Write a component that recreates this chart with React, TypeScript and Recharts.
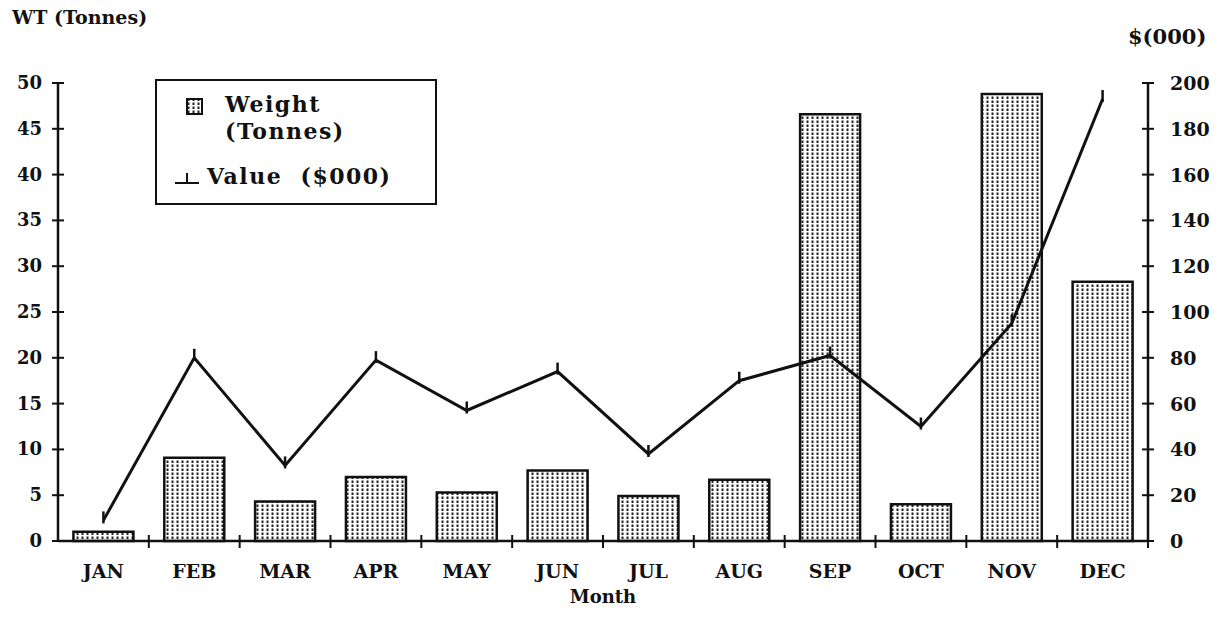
import {
  Bar,
  ComposedChart,
  Line,
  XAxis,
  YAxis,
} from "recharts";

const months = ["JAN", "FEB", "MAR", "APR", "MAY", "JUN", "JUL", "AUG", "SEP", "OCT", "NOV", "DEC"];
const weightTonnes = [1, 9.1, 4.3, 7, 5.3, 7.7, 4.9, 6.7, 46.6, 4, 48.8, 28.3];
const valueThousands = [9, 80, 33, 79, 57, 74, 38, 70, 81, 50, 95, 193];
const leftTicks = [0, 5, 10, 15, 20, 25, 30, 35, 40, 45, 50];
const rightTicks = [0, 20, 40, 60, 80, 100, 120, 140, 160, 180, 200];

const data = months.map((m, i) => ({
  month: m,
  weight: weightTonnes[i],
  value: valueThousands[i],
}));

const W = 1223;
const H = 617;
const LEFT_W = 58;
const RIGHT_W = 75;
const BAND = (W - LEFT_W - RIGHT_W) / months.length;
const FONT = "'DejaVu Serif', serif";
const INK = "#111";

function LeftTick(props: any) {
  const { x, y, payload } = props;
  return (
    <g>
      <line x1={x + 8} x2={x + 20} y1={y} y2={y} stroke={INK} strokeWidth={2} />
      <text x={x - 2} y={y} dy={6} textAnchor="end" fontFamily={FONT} fontWeight="bold" fontSize={18} fill={INK}>
        {payload.value}
      </text>
    </g>
  );
}

function RightTick(props: any) {
  const { x, y, payload } = props;
  return (
    <g>
      <line x1={x - 28} x2={x - 16} y1={y} y2={y} stroke={INK} strokeWidth={2} />
      <text x={x} y={y} dy={7} textAnchor="start" fontFamily={FONT} fontWeight="bold" fontSize={19} fill={INK}>
        {payload.value}
      </text>
    </g>
  );
}

function MonthTick(props: any) {
  const { x, y, payload } = props;
  return (
    <g>
      <line x1={x + BAND / 2} x2={x + BAND / 2} y1={y - 6} y2={y + 7} stroke={INK} strokeWidth={2} />
      <text x={x} y={y} dy={37} textAnchor="middle" fontFamily={FONT} fontWeight="bold" fontSize={19} fill={INK}>
        {payload.value}
      </text>
    </g>
  );
}

function TickDot(props: any) {
  const { cx, cy } = props;
  if (cx == null || cy == null) return null;
  return <line x1={cx} x2={cx} y1={cy - 9} y2={cy + 3} stroke={INK} strokeWidth={2.5} />;
}

function LegendBox() {
  const text = { fontFamily: FONT, fontWeight: "bold" as const, fontSize: 22, letterSpacing: 1.5, color: INK };
  return (
    <div
      style={{
        position: "absolute",
        left: 155,
        top: 79,
        width: 278,
        height: 122,
        border: `2px solid ${INK}`,
        background: "#fff",
      }}
    >
      <svg width={18} height={18} style={{ position: "absolute", left: 29, top: 17 }}>
        <rect x={1} y={1} width={15} height={15} fill="url(#dotFill)" stroke={INK} strokeWidth={2} />
      </svg>
      <div style={{ ...text, position: "absolute", left: 68, top: 10, lineHeight: "27px" }}>
        Weight
        <br />
        (Tonnes)
      </div>
      <svg width={30} height={20} style={{ position: "absolute", left: 16, top: 88 }}>
        <line x1={2} x2={26} y1={14} y2={14} stroke={INK} strokeWidth={2} />
        <line x1={14} x2={14} y1={4} y2={14} stroke={INK} strokeWidth={2} />
      </svg>
      <div style={{ ...text, position: "absolute", left: 50, top: 82, whiteSpace: "pre" }}>
        {"Value  ($000)"}
      </div>
    </div>
  );
}

export default function App() {
  return (
    <div style={{ position: "absolute", left: 0, top: 0, width: W, height: H, background: "#fff" }}>
      <div
        style={{
          position: "absolute",
          left: 12,
          top: 6,
          fontFamily: FONT,
          fontWeight: "bold",
          fontSize: 19,
          color: INK,
        }}
      >
        WT (Tonnes)
      </div>
      <div
        style={{
          position: "absolute",
          left: 1128,
          top: 24,
          fontFamily: FONT,
          fontWeight: "bold",
          fontSize: 21,
          color: INK,
        }}
      >
        $(000)
      </div>
      <ComposedChart
        width={W}
        height={H}
        data={data}
        margin={{ top: 83, right: 0, bottom: 0, left: 0 }}
        barCategoryGap="17%"
      >
        <defs>
          <pattern id="dotFill" width={5} height={4} patternUnits="userSpaceOnUse">
            <rect width={5} height={4} fill="#fff" />
            <rect x={1.5} y={0.5} width={2} height={2.5} fill="#222" />
          </pattern>
        </defs>
        <XAxis
          dataKey="month"
          height={76}
          tickSize={0}
          tickMargin={0}
          tick={<MonthTick />}
          axisLine={{ stroke: INK, strokeWidth: 2.5 }}
          interval={0}
          label={{
            value: "Month",
            position: "insideBottom",
            offset: 14,
            fontFamily: FONT,
            fontWeight: "bold",
            fontSize: 18,
            fill: INK,
          }}
        />
        <YAxis
          yAxisId="left"
          domain={[0, 50]}
          ticks={leftTicks}
          width={LEFT_W}
          tickSize={0}
          tickMargin={14}
          tick={<LeftTick />}
          axisLine={{ stroke: INK, strokeWidth: 2.5 }}
          interval={0}
        />
        <YAxis
          yAxisId="right"
          orientation="right"
          domain={[0, 200]}
          ticks={rightTicks}
          width={RIGHT_W}
          tickSize={0}
          tickMargin={22}
          tick={<RightTick />}
          axisLine={{ stroke: INK, strokeWidth: 2.5 }}
          interval={0}
        />
        <Bar
          yAxisId="left"
          dataKey="weight"
          name="Weight (Tonnes)"
          fill="url(#dotFill)"
          stroke={INK}
          strokeWidth={2.5}
          isAnimationActive={false}
        />
        <Line
          yAxisId="right"
          type="linear"
          dataKey="value"
          name="Value ($000)"
          stroke={INK}
          strokeWidth={3}
          dot={<TickDot />}
          activeDot={false}
          isAnimationActive={false}
        />
      </ComposedChart>
      <LegendBox />
    </div>
  );
}
